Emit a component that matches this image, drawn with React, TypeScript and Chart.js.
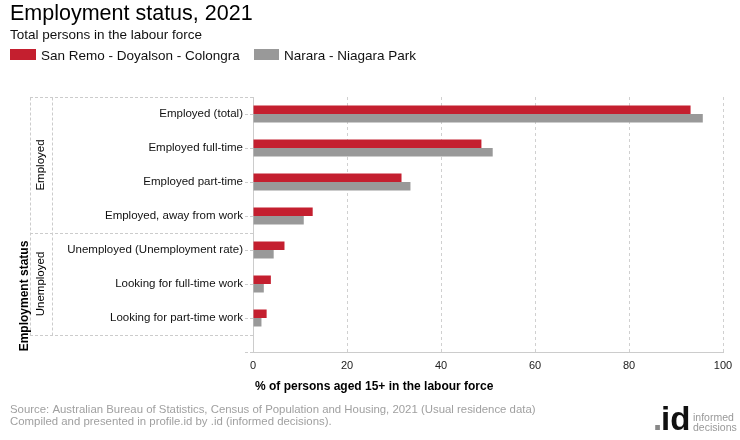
import React, { useEffect, useRef } from "react";
import { Chart, registerables } from "chart.js";

Chart.register(...registerables);

const categories = [
  "Employed (total)",
  "Employed full-time",
  "Employed part-time",
  "Employed, away from work",
  "Unemployed (Unemployment rate)",
  "Looking for full-time work",
  "Looking for part-time work",
];
const groups = [
  { label: "Employed", from: 0, to: 3 },
  { label: "Unemployed", from: 4, to: 6 },
];
const sanRemo = [93.1, 48.6, 31.6, 12.7, 6.7, 3.8, 2.9];
const narara = [95.7, 51.0, 33.5, 10.8, 4.4, 2.3, 1.8];
const seriesNames = ["San Remo - Doyalson - Colongra", "Narara - Niagara Park"];
const xTicks = [0, 20, 40, 60, 80, 100];

const RED = "#c41f2f";
const GREY = "#999999";
const FONT = "'Liberation Sans', Arial, sans-serif";

const overlay = {
  id: "overlay",
  afterDraw(chart: any) {
    const ctx = chart.ctx as CanvasRenderingContext2D;
    const y = chart.scales.y;
    const area = chart.chartArea;
    ctx.save();
    // Title & subtitle
    ctx.fillStyle = "#000";
    ctx.textAlign = "left";
    ctx.textBaseline = "alphabetic";
    ctx.font = `21.5px ${FONT}`;
    ctx.fillText("Employment status, 2021", 10, 20);
    ctx.font = `13.5px ${FONT}`;
    ctx.fillStyle = "#111";
    ctx.fillText("Total persons in the labour force", 10, 39);
    // Legend
    ctx.fillStyle = RED;
    ctx.fillRect(10, 49, 26, 11);
    ctx.fillStyle = GREY;
    ctx.fillRect(254, 49, 25, 11);
    ctx.fillStyle = "#111";
    ctx.font = `13.5px ${FONT}`;
    ctx.fillText(seriesNames[0], 41, 59.5);
    ctx.fillText(seriesNames[1], 284, 59.5);

    // Group brackets
    const yTop = y.getPixelForValue(-0.5);
    const yBot = y.getPixelForValue(categories.length - 0.5);
    ctx.strokeStyle = "#cccccc";
    ctx.lineWidth = 1;
    ctx.setLineDash([3, 2]);
    const hLines = [-0.5, ...groups.map((g) => g.to + 0.5)];
    hLines.forEach((v) => {
      const py = Math.round(y.getPixelForValue(v)) + 0.5;
      ctx.beginPath();
      ctx.moveTo(30, py);
      ctx.lineTo(area.left, py);
      ctx.stroke();
    });
    [30.5, 52.5].forEach((px) => {
      ctx.beginPath();
      ctx.moveTo(px, Math.round(yTop) + 0.5);
      ctx.lineTo(px, Math.round(yBot) + 0.5);
      ctx.stroke();
    });
    ctx.setLineDash([]);

    // Group labels
    ctx.fillStyle = "#000";
    ctx.font = `11.5px ${FONT}`;
    ctx.textAlign = "center";
    ctx.textBaseline = "middle";
    groups.forEach((g) => {
      const cy = (y.getPixelForValue(g.from - 0.5) + y.getPixelForValue(g.to + 0.5)) / 2;
      ctx.save();
      ctx.translate(41, cy);
      ctx.rotate(-Math.PI / 2);
      ctx.fillText(g.label, 0, 0);
      ctx.restore();
    });
    // Axis group title
    ctx.save();
    ctx.font = `bold 12px ${FONT}`;
    ctx.translate(25, 296);
    ctx.rotate(-Math.PI / 2);
    ctx.fillText("Employment status", 0, 0);
    ctx.restore();

    // X axis title
    ctx.textAlign = "left";
    ctx.font = `bold 12px ${FONT}`;
    ctx.fillText("% of persons aged 15+ in the labour force", area.left + 2, 387);

    // Footer
    ctx.textBaseline = "alphabetic";
    ctx.fillStyle = "#a0a0a0";
    ctx.font = `11.4px ${FONT}`;
    ctx.fillText(
      "Source: Australian Bureau of Statistics, Census of Population and Housing, 2021 (Usual residence data)",
      10,
      412.5
    );
    ctx.fillText("Compiled and presented in profile.id by .id (informed decisions).", 10, 424.5);

    // Logo
    ctx.font = `bold 33px ${FONT}`;
    ctx.fillStyle = "#888";
    ctx.fillText(".", 653, 430);
    ctx.fillStyle = "#111";
    ctx.fillText("id", 661, 430);
    ctx.fillStyle = "#999";
    ctx.font = `10.5px ${FONT}`;
    ctx.fillText("informed", 693, 421);
    ctx.fillText("decisions", 693, 431);
    ctx.restore();
  },
};

export default function App() {
  const ref = useRef<HTMLCanvasElement | null>(null);
  useEffect(() => {
    if (!ref.current) return;
    const chart = new Chart(ref.current, {
      type: "bar",
      data: {
        datasets: [
          {
            label: seriesNames[0],
            data: sanRemo.map((v, i) => ({ x: v, y: i })),
            backgroundColor: RED,
            categoryPercentage: 0.5,
            barPercentage: 1,
          },
          {
            label: seriesNames[1],
            data: narara.map((v, i) => ({ x: v, y: i })),
            backgroundColor: GREY,
            categoryPercentage: 0.5,
            barPercentage: 1,
          },
        ],
      },
      options: {
        indexAxis: "y",
        animation: false,
        responsive: false,
        maintainAspectRatio: false,
        layout: { padding: { top: 97, right: 17, left: 0, bottom: 0 } },
        plugins: {
          legend: { display: false },
          title: { display: false },
          tooltip: { enabled: false },
        },
        scales: {
          x: {
            type: "linear",
            min: 0,
            max: 100,
            afterBuildTicks: (scale: any) => {
              scale.ticks = xTicks.map((v) => ({ value: v }));
            },
            ticks: {
              color: "#222",
              font: { family: FONT, size: 11 },
              padding: 7,
            },
            grid: { color: "#d0d0d0", drawTicks: false },
            border: { display: true, color: "#cccccc", dash: [3, 3] },
            afterFit: (scale: any) => {
              scale.height = 88;
            },
          },
          y: {
            type: "linear",
            reverse: true,
            offset: false,
            min: -0.5,
            max: categories.length,
            afterBuildTicks: (scale: any) => {
              scale.ticks = [...categories.map((_, i) => i), categories.length].map((v) => ({ value: v }));
            },
            ticks: {
              color: "#111",
              font: { family: FONT, size: 11.5 },
              padding: 2,
              autoSkip: false,
              callback: (v: any) => (Number.isInteger(v) && categories[v] ? categories[v] : ""),
            },
            grid: {
              offset: false,
              drawOnChartArea: false,
              drawTicks: true,
              tickLength: 8,
              tickColor: "#cccccc",
              tickBorderDash: [3, 2],
            },
            border: { display: true, color: "#cccccc" },
            afterFit: (scale: any) => {
              scale.width = 253;
            },
          },
        },
      },
      plugins: [overlay],
    });
    return () => chart.destroy();
  }, []);
  return (
    <div style={{ position: "absolute", left: 0, top: 0, width: 740, height: 440, background: "#fff" }}>
      <canvas ref={ref} width={740} height={440} />
    </div>
  );
}
